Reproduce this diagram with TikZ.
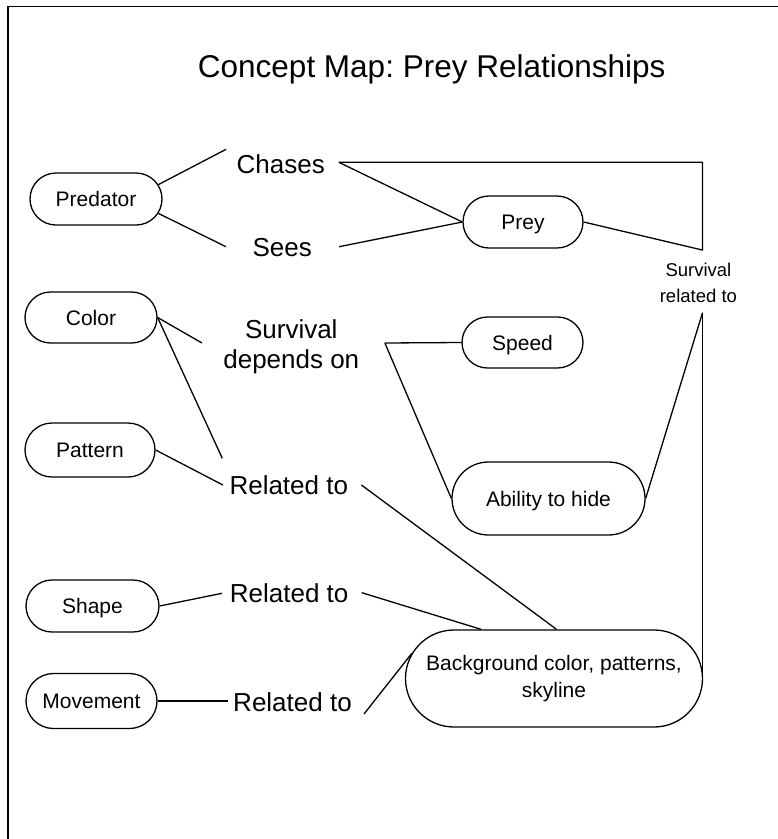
\documentclass[tikz,border=0pt]{standalone}
\usepackage{fontspec}
\setmainfont{Liberation Sans}
\usetikzlibrary{shapes.misc,calc}
\frenchspacing

\newcommand\pillfnt{\fontsize{21}{27}\selectfont}
\newcommand\linkfnt{\fontsize{26}{30}\selectfont}
\newcommand\smallfnt{\fontsize{18.5}{26}\selectfont}
\newcommand\headfnt{\fontsize{31.5}{36}\selectfont}

\begin{document}
\begin{tikzpicture}[x=1pt, y=-1pt, line width=1.3pt,
  pill/.style={draw, rounded rectangle, inner sep=0pt, font=\pillfnt, align=center},
  oneline/.style={text height=15.2pt, text depth=0pt},
  lbl/.style={inner sep=0pt, anchor=base, font=\linkfnt},
  multi/.style={inner sep=0pt, align=center},
  link/.style={line width=1.3pt}]
  \useasboundingbox (0,0) rectangle (778,839);

  % page frame (left and top edges)
  \draw (8,845) -- (8,6.5) -- (790,6.5);

  % title
  \node[font=\headfnt, anchor=base, inner sep=0pt] (title) at (431.7,77.3) {Concept Map: Prey Relationships};

  % concepts
  \node[pill, oneline, minimum width=132pt, minimum height=52pt] (pred) at (96,199) {Predator};
  \node[pill, oneline, minimum width=120pt, minimum height=52pt] (prey) at (523,222) {Prey};
  \node[pill, oneline, minimum width=132pt, minimum height=51pt] (color) at (91,317.5) {Color};
  \node[pill, oneline, minimum width=130pt, minimum height=54pt] (pattern) at (90,450) {Pattern};
  \node[pill, oneline, minimum width=121pt, minimum height=51pt] (speed) at (522.5,342.5) {Speed};
  \node[pill, oneline, minimum width=193pt, minimum height=73pt] (ability) at (548.5,498.5) {Ability to hide};
  \node[pill, oneline, minimum width=133pt, minimum height=52pt] (shape) at (92.5,606) {Shape};
  \node[pill, oneline, minimum width=131pt, minimum height=55pt] (movement) at (91.5,701) {Movement};
  \node[pill, minimum width=297pt, minimum height=97pt] (bg) at (554,678.5)
       {Background color, patterns,\\skyline};

  % linking phrases
  \node[lbl] (chases) at (280.8,173.3) {Chases};
  \node[lbl] (sees) at (282.2,256.7) {Sees};
  \node[lbl] (rel1) at (288.8,494) {Related to};
  \node[lbl] (rel2) at (289.2,602.7) {Related to};
  \node[lbl] (rel3) at (292.5,711) {Related to};
  \node[multi, font=\linkfnt] (sdep) at (291.3,346.8) {Survival\\depends on};
  \node[multi, font=\smallfnt] (srel) at (698.4,283) {Survival\\related to};

  % line ends beside the linking phrases
  \coordinate (cr) at ($(chases.base east)+(13.3,-11)$);
  \coordinate (st) at ($(srel.north)+(4.1,-12.5)$);
  \coordinate (sb) at ($(srel.south)+(4.1,9.3)$);
  \coordinate (dr) at ($(sdep.east)+(25,-3.8)$);

  % connectors
  \draw[link] (pred.13) -- ($(chases.base west)+(-10,-24)$);
  \draw[link] (pred.-13) -- ($(sees.base west)+(-26,-10)$);
  \draw[link] (cr) -- (prey.west);
  \draw[link] ($(sees.base east)+(26.6,-10)$) -- (prey.west);
  \draw[link] (cr) -- (cr -| st) -- (st) -- (prey.east);
  \draw[link] (sb) -- (ability.east);
  \draw[link] (sb) -- (sb |- bg.east);

  \draw[link] (color.east) -- ($(sdep.west)+(-20.7,-3.8)$);
  \draw[link] (color.east) -- ($(rel1.base west)+(-6.6,-35.7)$);
  \draw[link] (pattern.east) -- ($(rel1.base west)+(-6,-9)$);
  \draw[link] ($(rel1.base east)+(12.7,-9)$) -- (bg.87);

  \draw[link] (dr) -- (speed.west);
  \draw[link] (dr) -- (ability.west);

  \draw[link] (shape.east) -- ($(rel2.base west)+(-7.3,-9.4)$);
  \draw[link] ($(rel2.base east)+(12.7,-10)$) -- (bg.146);

  \draw[link] (movement.east) -- ($(rel3.base west)+(-5,-10)$);
  \draw[link] ($(rel3.base east)+(11.6,3)$) -- (bg.170);
\end{tikzpicture}
\end{document}
